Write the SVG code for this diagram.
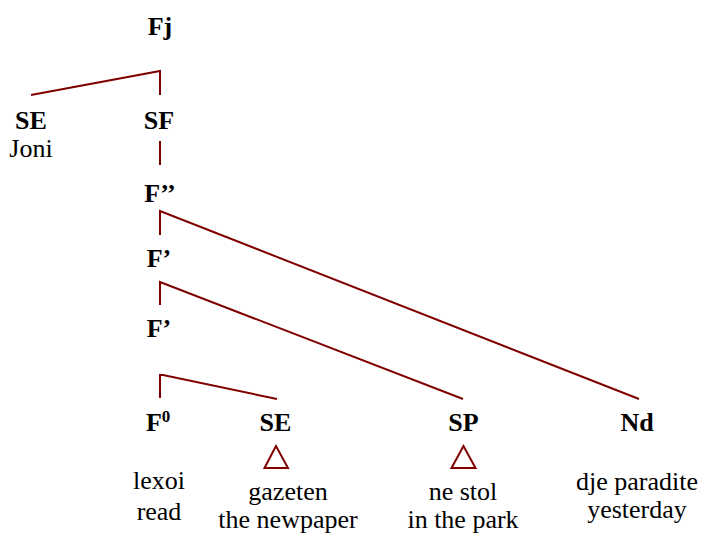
<svg xmlns="http://www.w3.org/2000/svg" width="701" height="534" viewBox="0 0 701 534">
<style>
.b{font-family:"Liberation Serif","Times New Roman",serif;font-size:26px;font-weight:bold;text-anchor:middle;fill:#000}
.r{font-family:"Liberation Serif","Times New Roman",serif;font-size:26px;text-anchor:middle;fill:#000}
.e{stroke:#800000;stroke-width:2;fill:none}
</style>
<rect width="701" height="534" fill="#fff"/>
<g id="connectors">
<path class="e" d="M31,95 L160,71 L160,95"/>
<path class="e" d="M160,141 L160,165"/>
<path class="e" d="M160,235 L160,211 L639,399"/>
<path class="e" d="M160,305 L160,282 L463,399"/>
<path class="e" d="M160,398 L160,375 L163,375 L277,399"/>
<polygon class="e" points="276,446 264.5,468 288,468"/>
<polygon class="e" points="463.5,446 451.5,468 475.5,468"/>
</g>
<g id="Fj"><text class="b" x="160" y="35">Fj</text></g>
<g id="SE1"><text class="b" x="31" y="129">SE</text><text class="r" x="31" y="157">Joni</text></g>
<g id="SF"><text class="b" x="159" y="129">SF</text></g>
<g id="F2"><text class="b" x="160" y="202">F’’</text></g>
<g id="F1a"><text class="b" x="159" y="267">F’</text></g>
<g id="F1b"><text class="b" x="159" y="337">F’</text></g>
<g id="F0"><text class="b" x="154" y="431">F</text><text class="b" x="166" y="422" style="font-size:17px">0</text><text class="r" x="159" y="489">lexoi</text><text class="r" x="159" y="520">read</text></g>
<g id="SE2"><text class="b" x="275.5" y="431">SE</text><text class="r" x="288" y="500">gazeten</text><text class="r" x="288" y="528">the newpaper</text></g>
<g id="SP"><text class="b" x="463.5" y="431">SP</text><text class="r" x="463" y="500">ne stol</text><text class="r" x="463" y="528">in the park</text></g>
<g id="Nd"><text class="b" x="637" y="431">Nd</text><text class="r" x="637" y="490">dje paradite</text><text class="r" x="637" y="518">yesterday</text></g>
</svg>
